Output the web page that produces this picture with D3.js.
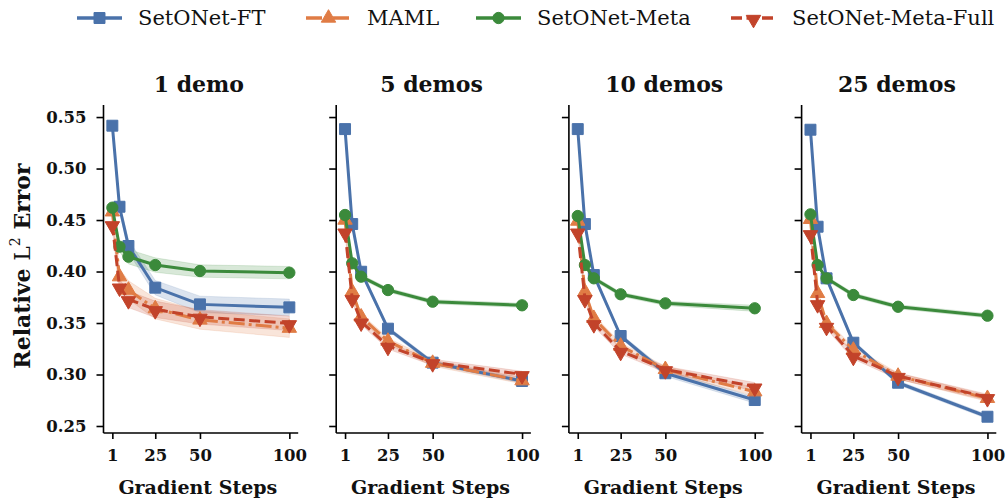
<!DOCTYPE html>
<html><head><meta charset="utf-8">
<script src="https://cdn.jsdelivr.net/npm/d3@7"></script>
<style>body{margin:0;background:#fff}svg{display:block}</style>
</head><body>
<svg id="c" width="1006" height="498"></svg>
<script>
const steps = [1, 5, 10, 25, 50, 100];
const xTicks = [1, 25, 50, 100];
const yTicks = [0.25, 0.30, 0.35, 0.40, 0.45, 0.50, 0.55];
const panels = ["1 demo", "5 demos", "10 demos", "25 demos"];
const seriesNames = ["SetONet-FT", "MAML", "SetONet-Meta", "SetONet-Meta-Full"];

// mean values per panel
const setonetFT = [
  [0.5416, 0.4629, 0.4248, 0.3843, 0.3681, 0.3652],
  [0.5383, 0.4461, 0.3998, 0.3445, 0.3115, 0.2937],
  [0.5383, 0.4461, 0.3966, 0.3374, 0.3012, 0.2752],
  [0.5377, 0.4435, 0.3934, 0.3309, 0.2920, 0.2590]
];
const maml = [
  [0.4580, 0.3950, 0.3820, 0.3640, 0.3530, 0.3450],
  [0.4500, 0.3804, 0.3560, 0.3325, 0.3110, 0.2940],
  [0.4490, 0.3804, 0.3546, 0.3277, 0.3050, 0.2833],
  [0.4507, 0.3788, 0.3497, 0.3238, 0.2985, 0.2769]
];
const setonetMeta = [
  [0.4620, 0.4241, 0.4144, 0.4063, 0.4005, 0.3989],
  [0.4549, 0.4080, 0.3950, 0.3820, 0.3707, 0.3672],
  [0.4539, 0.4063, 0.3934, 0.3779, 0.3691, 0.3643],
  [0.4555, 0.4063, 0.3934, 0.3772, 0.3658, 0.3571]
];
const setonetMetaFull = [
  [0.4458, 0.3853, 0.3730, 0.3633, 0.3560, 0.3497],
  [0.4387, 0.3740, 0.3513, 0.3277, 0.3118, 0.3002],
  [0.4387, 0.3740, 0.3497, 0.3228, 0.3050, 0.2882],
  [0.4371, 0.3691, 0.3471, 0.3180, 0.2985, 0.2779]
];
// standard deviation (shaded band half-width) per panel
const setonetFTStd = [
  [0.004, 0.004, 0.006, 0.007, 0.008, 0.008],
  [0.002, 0.002, 0.002, 0.002, 0.002, 0.002],
  [0.002, 0.002, 0.002, 0.002, 0.003, 0.003],
  [0.002, 0.002, 0.002, 0.002, 0.002, 0.002]
];
const mamlStd = [
  [0.004, 0.008, 0.009, 0.010, 0.009, 0.009],
  [0.002, 0.003, 0.003, 0.003, 0.003, 0.003],
  [0.002, 0.003, 0.003, 0.003, 0.003, 0.004],
  [0.002, 0.003, 0.003, 0.003, 0.003, 0.003]
];
const setonetMetaStd = [
  [0.003, 0.005, 0.007, 0.007, 0.006, 0.006],
  [0.002, 0.002, 0.002, 0.002, 0.002, 0.002],
  [0.002, 0.002, 0.002, 0.002, 0.002, 0.003],
  [0.002, 0.002, 0.002, 0.002, 0.002, 0.002]
];
const setonetMetaFullStd = [
  [0.004, 0.007, 0.008, 0.008, 0.007, 0.007],
  [0.002, 0.003, 0.003, 0.003, 0.003, 0.003],
  [0.002, 0.003, 0.003, 0.003, 0.003, 0.004],
  [0.002, 0.003, 0.003, 0.003, 0.003, 0.003]
];

const series = [
  {name: seriesNames[0], vals: setonetFT, std: setonetFTStd, color: "#4a72aa", dash: null, marker: d3.symbolSquare, size: 120, rot: 0},
  {name: seriesNames[1], vals: maml, std: mamlStd, color: "#e07c45", dash: "16,4,3,4", marker: d3.symbolTriangle, size: 90, rot: 0},
  {name: seriesNames[2], vals: setonetMeta, std: setonetMetaStd, color: "#3b8a3b", dash: null, marker: d3.symbolCircle, size: 100, rot: 0},
  {name: seriesNames[3], vals: setonetMetaFull, std: setonetMetaFullStd, color: "#c2432a", dash: "11,4.5", marker: d3.symbolTriangle, size: 90, rot: 180}
];

const svg = d3.select("#c");
const serif = "'DejaVu Serif', serif";
const panelLeft = 103.5, panelStep = 232.7, panelW = 194.7;
const plotTop = 105, plotBottom = 433;
const y = d3.scaleLinear().domain([0.2432, 0.5617]).range([plotBottom, plotTop]);

panels.forEach((title, pi) => {
  const x0 = panelLeft + pi * panelStep;
  const x = d3.scaleLinear().domain([-3.95, 104.95]).range([x0, x0 + panelW]);
  const g = svg.append("g");

  // axes
  const xa = g.append("g").attr("transform", `translate(0,${plotBottom})`)
    .call(d3.axisBottom(x).tickValues(xTicks).tickSize(6).tickPadding(10).tickFormat(d3.format("d")));
  const ya = g.append("g").attr("transform", `translate(${x0},0)`)
    .call(d3.axisLeft(y).tickValues(yTicks).tickSize(7).tickPadding(10)
      .tickFormat(pi === 0 ? d3.format(".2f") : () => ""));
  [xa, ya].forEach(a => {
    a.select(".domain").attr("stroke", "#000").attr("stroke-width", 1.6);
    a.selectAll(".tick line").attr("stroke", "#000").attr("stroke-width", 1.6);
    a.selectAll(".tick text").attr("font-family", serif).attr("font-weight", "bold")
      .attr("font-size", 16.5).attr("fill", "#111");
  });
  xa.select(".domain").attr("d", `M${x0},0H${x0 + panelW}`);
  ya.select(".domain").attr("d", `M0,${plotBottom}V${plotTop}`);

  // title
  g.append("text").attr("x", x0 + panelW / 2 - 2).attr("y", 92)
    .attr("text-anchor", "middle").attr("font-family", serif).attr("font-weight", "bold")
    .attr("font-size", 22).attr("fill", "#111").text(title);
  // x label
  g.append("text").attr("x", x0 + panelW / 2 - 3).attr("y", 494)
    .attr("text-anchor", "middle").attr("font-family", serif).attr("font-weight", "bold")
    .attr("font-size", 19).attr("fill", "#111").text("Gradient Steps");

  // bands
  series.forEach(s => {
    const area = d3.area().x((d, i) => x(steps[i]))
      .y0((d, i) => y(d - s.std[pi][i])).y1((d, i) => y(d + s.std[pi][i]));
    g.append("path").datum(s.vals[pi]).attr("d", area)
      .attr("fill", s.color).attr("fill-opacity", 0.2)
      .attr("stroke", s.color).attr("stroke-opacity", 0.15).attr("stroke-width", 1);
  });
  // lines + markers
  series.forEach(s => {
    const line = d3.line().x((d, i) => x(steps[i])).y(d => y(d));
    g.append("path").datum(s.vals[pi]).attr("d", line)
      .attr("fill", "none").attr("stroke", s.color).attr("stroke-width", 3)
      .attr("stroke-dasharray", s.dash).attr("stroke-linejoin", "round");
    g.selectAll(null).data(s.vals[pi]).enter().append("path")
      .attr("d", d3.symbol().type(s.marker).size(s.size))
      .attr("transform", (d, i) => `translate(${x(steps[i])},${y(d) + (s.rot ? 1.5 : 0)}) rotate(${s.rot})`)
      .attr("fill", s.color).attr("stroke", s.color).attr("stroke-width", 1);
  });
});

// y label
const yl = svg.append("text").attr("transform", `translate(30,266) rotate(-90)`)
  .attr("text-anchor", "middle").attr("font-family", serif).attr("font-size", 22)
  .attr("fill", "#111");
yl.append("tspan").attr("font-weight", "bold").text("Relative ");
yl.append("tspan").text("L");
yl.append("tspan").attr("font-size", 14).attr("dy", -10).text("2");
yl.append("tspan").attr("dy", 10).attr("font-weight", "bold").text(" Error");

// legend
const legX = [77, 306, 476, 731];
const leg = svg.append("g");
series.forEach((s, i) => {
  const lx = legX[i], ly = 18;
  leg.append("line").attr("x1", lx).attr("x2", lx + 45).attr("y1", ly).attr("y2", ly)
    .attr("stroke", s.color).attr("stroke-width", 3.5).attr("stroke-dasharray", s.dash);
  leg.append("path").attr("d", d3.symbol().type(s.marker).size(s.size))
    .attr("transform", `translate(${lx + 22.5},${ly + (s.rot ? 1.5 : 0)}) rotate(${s.rot})`)
    .attr("fill", s.color).attr("stroke", s.color);
  leg.append("text").attr("x", lx + 61).attr("y", ly + 7).attr("font-family", serif)
    .attr("font-size", 21).attr("fill", "#111").text(s.name);
});
</script>
</body></html>
